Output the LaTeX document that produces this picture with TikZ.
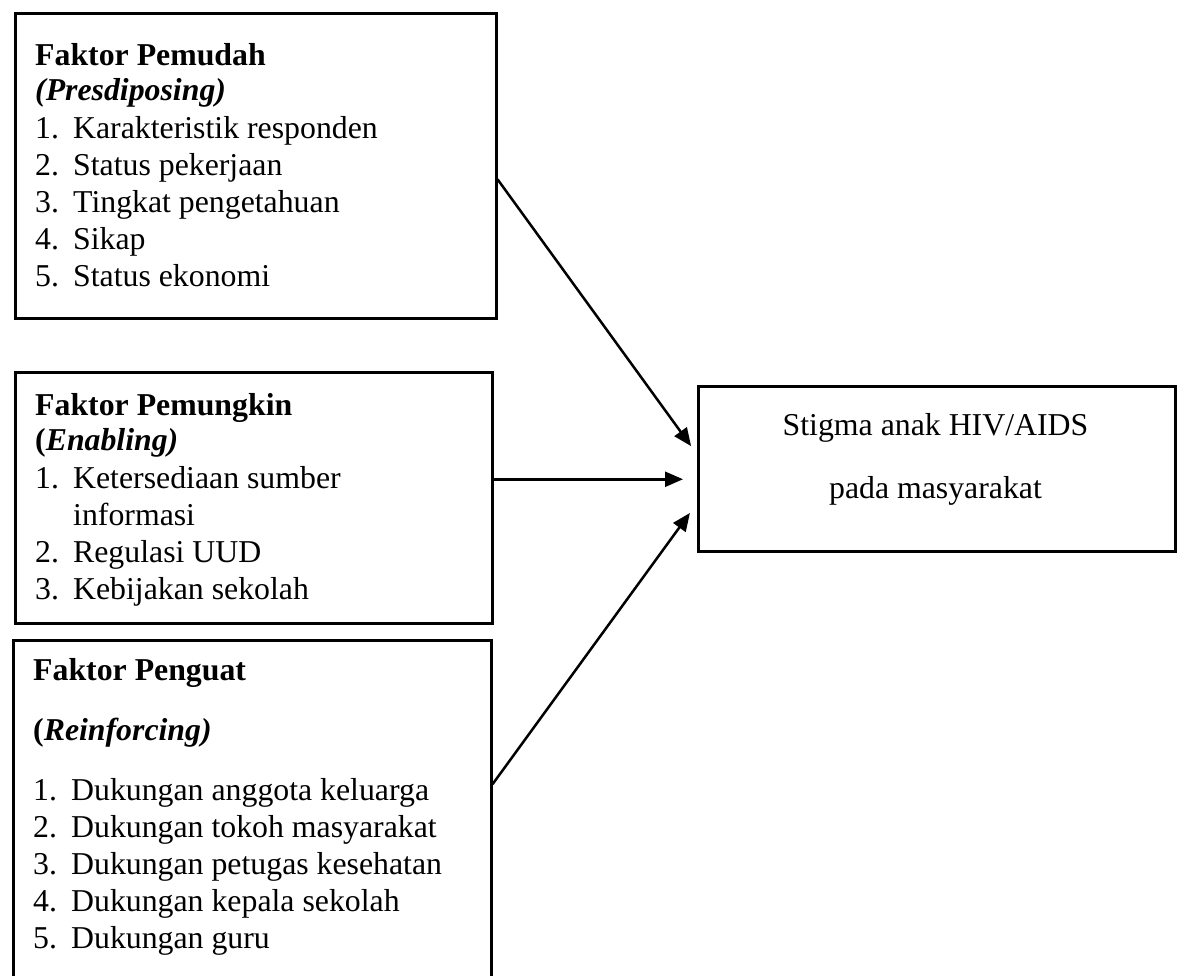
\documentclass[tikz,border=0pt]{standalone}
\usepackage{fontspec}
\setmainfont{Liberation Serif}
\usetikzlibrary{arrows.meta}
\begin{document}
\begin{tikzpicture}[x=1pt,y=-1pt,
  box/.style={draw,line width=2.5pt,rectangle,inner sep=0pt,anchor=north west},
  txt/.style={anchor=base west,inner sep=0pt,font=\fontsize{31.8}{37}\selectfont},
  ctxt/.style={anchor=base,inner sep=0pt,font=\fontsize{31.8}{37}\selectfont},
  arr/.style={line width=2.5pt,-{Triangle[length=18pt,width=15pt]}}]
\clip (0,0) rectangle (1180,975);
\useasboundingbox (0,0) rectangle (1180,975);
\fill[white] (0,0) rectangle (1180,975);
\newcommand{\itm}[1]{\makebox[38pt][l]{#1}}
% boxes
\node[box,minimum width=481pt,minimum height=305pt] (b1) at (14,12) {};
\node[box,minimum width=477pt,minimum height=251pt] (b2) at (14,371) {};
\node[box,minimum width=478pt,minimum height=361pt] (b3) at (12,639) {};
\node[box,minimum width=477pt,minimum height=165pt] (t) at (697,385) {};
% texts
\node[txt] (t1) at (35,65) {\parbox[t]{450pt}{\raggedright
  \textbf{Faktor Pemudah}\\[-2pt]
  \textbf{\textit{(Presdiposing)}}\\[1pt]
  \itm{1.}Karakteristik responden\\
  \itm{2.}Status pekerjaan\\
  \itm{3.}Tingkat pengetahuan\\
  \itm{4.}Sikap\\
  \itm{5.}Status ekonomi}};
\node[txt] (t2) at (35,415) {\parbox[t]{450pt}{\raggedright
  \textbf{Faktor Pemungkin}\\[-2pt]
  \textbf{(\textit{Enabling)}}\\[1pt]
  \itm{1.}Ketersediaan sumber\\
  \hspace*{38pt}informasi\\
  \itm{2.}Regulasi UUD\\
  \itm{3.}Kebijakan sekolah}};
\node[txt] (t3) at (33,680) {\parbox[t]{450pt}{\raggedright
  \textbf{Faktor Penguat}\\[23pt]
  \textbf{(\textit{Reinforcing)}}\\[23pt]
  \itm{1.}Dukungan anggota keluarga\\
  \itm{2.}Dukungan tokoh masyarakat\\
  \itm{3.}Dukungan petugas kesehatan\\
  \itm{4.}Dukungan kepala sekolah\\
  \itm{5.}Dukungan guru}};
\node[ctxt] (tt1) at (935.5,435) {Stigma anak HIV/AIDS};
\node[ctxt] (tt2) at (935.5,498) {pada masyarakat};
% arrows
\draw[arr,shorten >=10pt] ([yshift=-13.5pt]b1.east) -- ([yshift=14.5pt]t.west);
\draw[arr,shorten >=14pt] ([yshift=18.5pt]b2.east) -- ([yshift=-10.5pt]t.west);
\draw[arr,shorten >=12pt] ([yshift=36.5pt]b3.east) -- ([yshift=-34.5pt]t.west);
\end{tikzpicture}
\end{document}
